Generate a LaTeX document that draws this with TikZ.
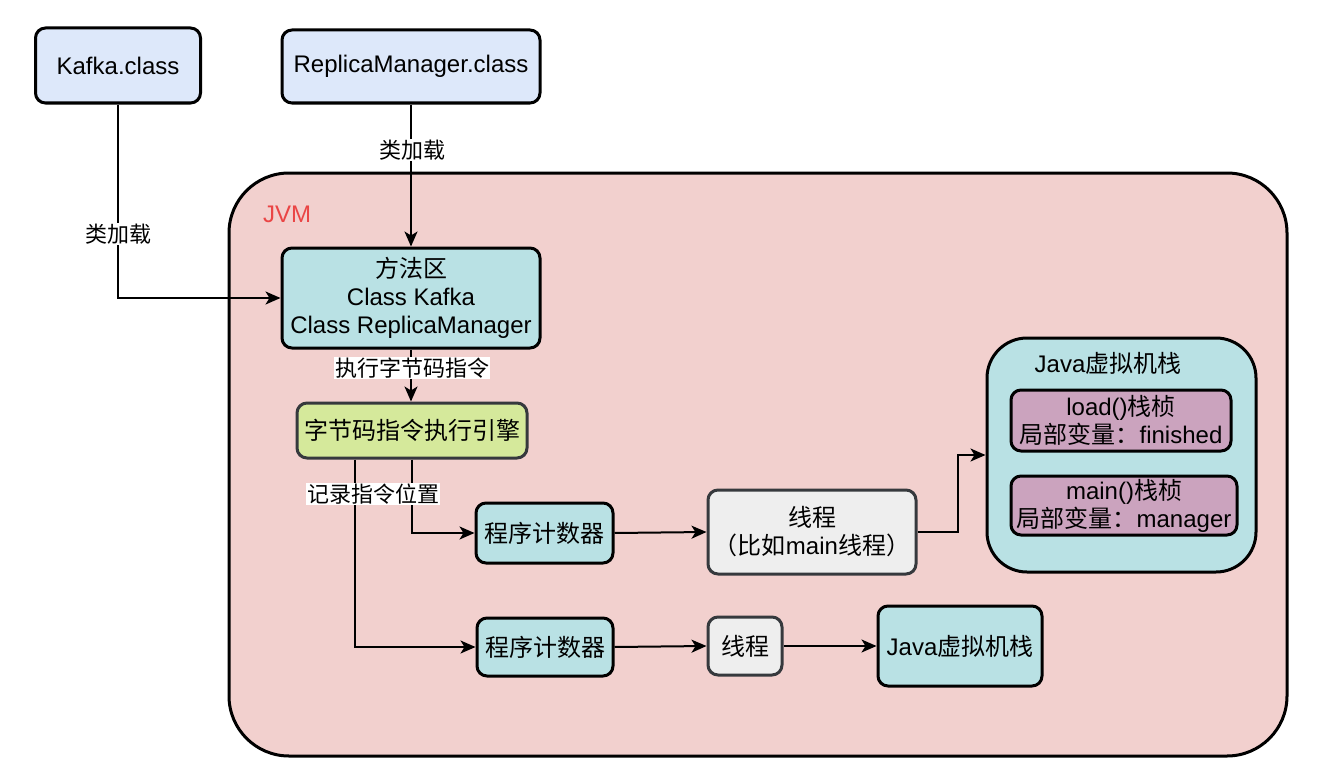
\documentclass[tikz,border=0pt]{standalone}
\usepackage{fontspec}
\setmainfont{Liberation Sans}
\newfontfamily\cjk{Noto Sans CJK SC}
\usetikzlibrary{arrows.meta,calc}
\newcommand\zh[1]{{\cjk #1}}
\definecolor{bluefill}{HTML}{DDE8FA}
\definecolor{pinkfill}{HTML}{F2D0CE}
\definecolor{tealfill}{HTML}{B9E1E4}
\definecolor{greenfill}{HTML}{D5E99B}
\definecolor{purplefill}{HTML}{CBA3BE}
\definecolor{greyfill}{HTML}{EEEEEE}
\definecolor{darkline}{HTML}{36393D}
\definecolor{jvmred}{HTML}{EA4545}
\tikzset{
  box/.style={draw=black, line width=3pt, rounded corners=10pt, rectangle, align=center,
    inner sep=0pt, font=\fontsize{24}{28}\selectfont},
  conn/.style={draw=black, line width=2pt, -{Stealth[length=15pt,width=13pt,inset=4pt]}},
  elabel/.style={fill=white, inner sep=1pt, font=\fontsize{22}{26}\selectfont},
}
\begin{document}
\begin{tikzpicture}[x=1pt,y=-1pt]
\useasboundingbox (0,0) rectangle (1318,776);
% JVM container
\node[box, fill=pinkfill, rounded corners=60pt, minimum width=1058pt, minimum height=583pt] (jvm) at (758,464.5) {};
\node[text=jvmred, font=\fontsize{24}{28}\selectfont, anchor=west, inner sep=0pt] (jvmlabel) at (263,214) {JVM};

% top class files
\node[box, fill=bluefill, minimum width=165pt, minimum height=75pt] (kafka) at (118,65.5) {\raisebox{-2pt}{Kafka.class}};
\node[box, fill=bluefill, minimum width=258pt, minimum height=73pt] (rm) at (411,66.5) {\raisebox{-2pt}{ReplicaManager.class}};

% method area
\node[box, fill=tealfill, minimum width=258pt, minimum height=100pt] (method) at (411,298) {\zh{方法区}\\Class Kafka\\Class ReplicaManager};

% engine
\node[box, draw=darkline, fill=greenfill, minimum width=230pt, minimum height=55pt] (engine) at (412,430.5) {\zh{字节码指令执行引擎}};

% program counters
\node[box, fill=tealfill, minimum width=137pt, minimum height=60pt] (pc1) at (544.5,533) {\zh{程序计数器}};
\node[box, fill=tealfill, minimum width=136pt, minimum height=58pt] (pc2) at (545,647) {\zh{程序计数器}};

% threads
\node[box, draw=darkline, fill=greyfill, minimum width=208pt, minimum height=84pt] (thread1) at (812,532) {\zh{线程}\\\zh{（比如}main\zh{线程）}};
\node[box, draw=darkline, fill=greyfill, minimum width=74pt, minimum height=58pt] (thread2) at (745,646) {\zh{线程}};

% stacks
\node[box, fill=tealfill, minimum width=164pt, minimum height=80pt] (stack2) at (960,646) {Java\zh{虚拟机栈}};
\node[box, fill=tealfill, rounded corners=40pt, minimum width=269pt, minimum height=234pt] (stack1) at (1121.5,455) {};
\node[font=\fontsize{24}{28}\selectfont, inner sep=0pt] (stack1title) at (1108,363) {Java\zh{虚拟机栈}};
\node[box, fill=purplefill, minimum width=220pt, minimum height=61pt] (frame1) at (1121,420.5) {load()\zh{栈桢}\\\zh{局部变量：}finished};
\node[box, fill=purplefill, minimum width=226pt, minimum height=59pt] (frame2) at (1124,505.5) {main()\zh{栈桢}\\\zh{局部变量：}manager};

% connectors
\draw[conn] (kafka.south) -- (kafka.south |- method.west) -- (method.west);
\node[elabel] (lab1) at (118,234) {\zh{类加载}};
\draw[conn] (rm.south) -- (method.north);
\node[elabel] (lab2) at (412,150) {\zh{类加载}};
\draw[conn] (method.south) -- (method.south |- engine.north);
\node[elabel] (lab3) at (412,368) {\zh{执行字节码指令}};
\draw[conn] (engine.south) -- (engine.south |- pc1.west) -- (pc1.west);
\coordinate (eleft) at ($(engine.south)+(-57,0)$);
\draw[conn] (eleft) -- (eleft |- pc2.west) -- (pc2.west);
\node[elabel] (lab4) at (373,494) {\zh{记录指令位置}};
\draw[conn] (pc1.east) -- (thread1.west);
\draw[conn] (pc2.east) -- (thread2.west);
\draw[conn] (thread2.east) -- (stack2.west);
\coordinate (bend) at (958,532);
\draw[conn] (thread1.east) -- (bend) |- (stack1.west);
\end{tikzpicture}
\end{document}
